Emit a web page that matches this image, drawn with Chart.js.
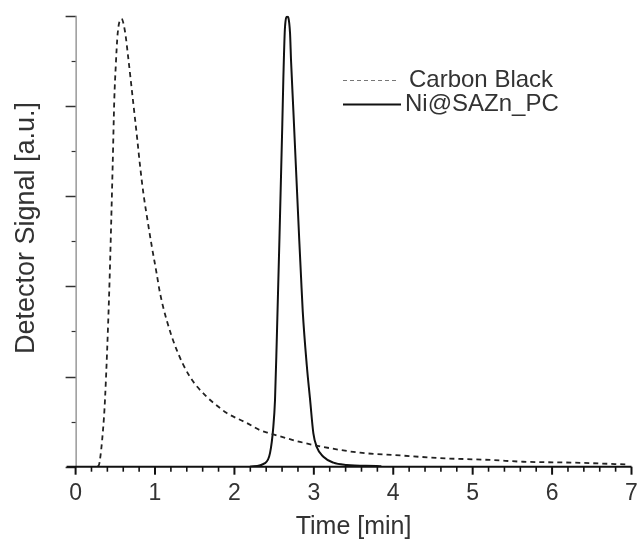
<!DOCTYPE html>
<html>
<head>
<meta charset="utf-8">
<script src="https://cdn.jsdelivr.net/npm/chart.js@4.4.1/dist/chart.umd.min.js"></script>
<style>
  html, body { margin: 0; padding: 0; background: #ffffff; }
  #wrap { position: relative; width: 639px; height: 548px; }
  canvas { display: block; }
</style>
</head>
<body>
<div id="wrap"><canvas id="c" width="639" height="548" style="width:639px;height:548px"></canvas></div>
<script>
// ---- data ----
const seriesNames = ["Carbon Black", "Ni@SAZn_PC"];
const xTickLabels = ["0", "1", "2", "3", "4", "5", "6", "7"];

const cbTime   = [0.28, 0.30, 0.345, 0.37, 0.424, 0.467, 0.487, 0.505, 0.53, 0.578, 0.622, 0.664, 0.727, 0.777, 0.811, 0.853, 0.916, 0.958, 1.021, 1.063, 1.147, 1.273, 1.441, 1.651, 1.819, 1.903, 2.155, 2.322, 2.448, 2.826, 3.204, 3.582, 4.086, 4.59, 5.22, 5.635, 6.265, 6.94];
const cbSignal = [0.0, 0.008, 0.081, 0.148, 0.392, 0.669, 0.813, 0.886, 0.961, 0.993, 0.965, 0.905, 0.805, 0.725, 0.668, 0.607, 0.535, 0.49, 0.428, 0.385, 0.325, 0.259, 0.199, 0.155, 0.130, 0.119, 0.097, 0.081, 0.074, 0.055, 0.041, 0.031, 0.025, 0.019, 0.015, 0.011, 0.009, 0.005];

const niTime   = [2.196, 2.385, 2.448, 2.49, 2.511, 2.533, 2.566, 2.603, 2.616, 2.637, 2.666, 2.70, 2.713, 2.742, 2.817, 2.839, 2.86, 2.911, 2.953, 2.994, 3.036, 3.12, 3.246, 3.414, 3.79, 3.85];
const niSignal = [0.0, 0.008, 0.030, 0.089, 0.148, 0.28, 0.50, 0.76, 0.86, 0.975, 0.998, 0.962, 0.90, 0.79, 0.50, 0.42, 0.345, 0.225, 0.148, 0.074, 0.044, 0.022, 0.009, 0.004, 0.0015, 0.001];

const FONT = "'Liberation Sans', Arial, Helvetica, sans-serif";
const TEXT = "#333333";

function toPoints(xs, ys) { return xs.map((x, i) => ({ x: x, y: ys[i] })); }

const decorPlugin = {
  id: 'decor',
  afterDraw(chart) {
    const ctx = chart.ctx;
    const xs = chart.scales.x, ys = chart.scales.y;
    const area = chart.chartArea;
    ctx.save();
    // y axis line
    ctx.strokeStyle = "#666666";
    ctx.lineWidth = 1;
    ctx.beginPath();
    ctx.moveTo(area.left + 0.5, area.top);
    ctx.lineTo(area.left + 0.5, area.bottom);
    ctx.stroke();
    // y ticks
    for (let k = 0; k <= 10; k++) {
      const v = k / 10;
      const py = Math.round(ys.getPixelForValue(v)) + 0.5;
      const len = (k % 2 === 0) ? 10 : 4;
      ctx.strokeStyle = "#333333";
      ctx.lineWidth = (k % 2 === 0) ? 1.5 : 1.2;
      ctx.beginPath();
      ctx.moveTo(area.left - len, py);
      ctx.lineTo(area.left, py);
      ctx.stroke();
    }
    // x axis line
    ctx.strokeStyle = "#111111";
    ctx.lineWidth = 2;
    ctx.beginPath();
    ctx.moveTo(area.left - 9, area.bottom);
    ctx.lineTo(area.right, area.bottom);
    ctx.stroke();
    // x ticks (major every 1, minor every 0.2)
    for (let k = 0; k <= 35; k++) {
      const v = k / 5;
      const px = xs.getPixelForValue(v);
      const major = (k % 5 === 0);
      ctx.strokeStyle = "#111111";
      ctx.lineWidth = major ? 2 : 1.6;
      ctx.beginPath();
      ctx.moveTo(px, area.bottom);
      ctx.lineTo(px, area.bottom + (major ? 8 : 5));
      ctx.stroke();
    }
    // axis titles
    ctx.fillStyle = TEXT;
    ctx.font = "25px " + FONT;
    ctx.textAlign = "center";
    ctx.textBaseline = "middle";
    ctx.fillText("Time [min]", (area.left + area.right) / 2, 527);
    ctx.save();
    ctx.translate(27, 228);
    ctx.rotate(-Math.PI / 2);
    ctx.font = "27px " + FONT;
    ctx.fillText("Detector Signal [a.u.]", 0, 0);
    ctx.restore();
    // legend
    const ds = chart.data.datasets;
    const rows = [80, 104];
    ds.forEach((d, i) => {
      const y = rows[i];
      ctx.strokeStyle = i === 0 ? "#777777" : "#111111";
      ctx.lineWidth = i === 0 ? 1 : 2;
      ctx.setLineDash(i === 0 ? [4, 3] : []);
      ctx.beginPath();
      ctx.moveTo(343, y + 0.5);
      ctx.lineTo(i === 0 ? 399 : 401, y + 0.5);
      ctx.stroke();
      ctx.setLineDash([]);
      ctx.fillStyle = TEXT;
      ctx.font = "24px " + FONT;
      ctx.textAlign = "left";
      ctx.textBaseline = "middle";
      ctx.fillText(d.label, i === 0 ? 409 : 405, y);
    });
    ctx.restore();
  }
};

new Chart(document.getElementById('c'), {
  type: 'line',
  data: {
    datasets: [
      {
        label: seriesNames[0],
        data: toPoints(cbTime, cbSignal),
        borderColor: "#222222",
        borderWidth: 1.8,
        borderDash: [5, 4],
        pointRadius: 0,
        cubicInterpolationMode: 'monotone',
        fill: false
      },
      {
        label: seriesNames[1],
        data: toPoints(niTime, niSignal),
        borderColor: "#111111",
        borderWidth: 2,
        pointRadius: 0,
        cubicInterpolationMode: 'monotone',
        fill: false
      }
    ]
  },
  options: {
    responsive: false,
    animation: false,
    devicePixelRatio: 1,
    layout: { padding: { left: 0, right: 7.5, top: 15.7, bottom: 0 } },
    plugins: { legend: { display: false }, tooltip: { enabled: false } },
    scales: {
      x: {
        type: 'linear',
        min: 0, max: 7,
        afterFit: s => { s.height = 548 - 466.7; s.paddingLeft = 0; s.paddingRight = 0; },
        border: { display: false },
        grid: { display: false },
        ticks: {
          stepSize: 1,
          padding: 5,
          color: TEXT,
          font: { size: 23, family: FONT },
          maxRotation: 0,
          callback: (v) => xTickLabels[Math.round(v)] !== undefined && Math.abs(v - Math.round(v)) < 1e-6 ? xTickLabels[Math.round(v)] : ''
        }
      },
      y: {
        type: 'linear',
        min: 0, max: 1,
        afterFit: s => { s.width = 75.6; s.paddingTop = 0; s.paddingBottom = 0; },
        border: { display: false },
        grid: { display: false },
        ticks: { display: false, stepSize: 0.2 }
      }
    }
  },
  plugins: [decorPlugin]
});
</script>
</body>
</html>
